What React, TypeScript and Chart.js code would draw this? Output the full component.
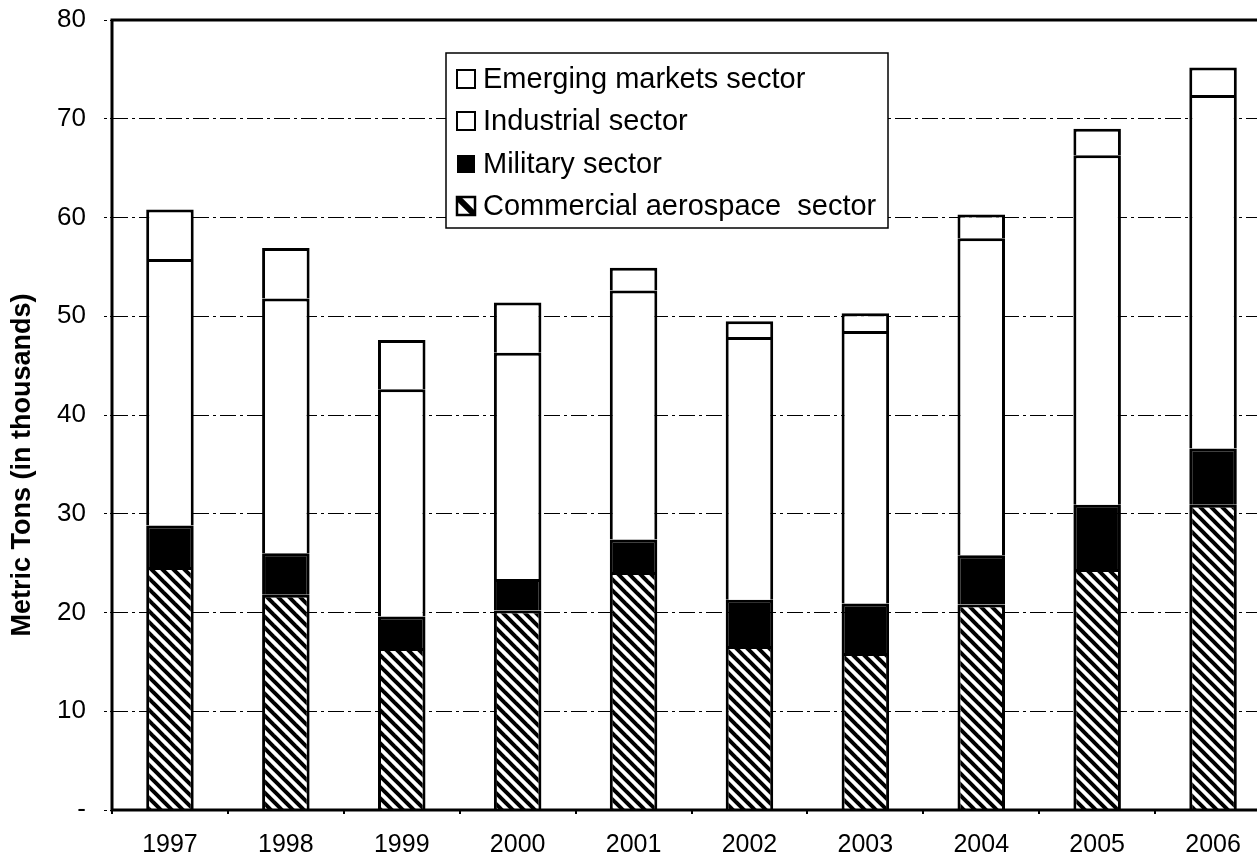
import React, { useEffect, useRef } from 'react';
import { Chart, registerables } from 'chart.js';

Chart.register(...registerables);

const years = ['1997', '1998', '1999', '2000', '2001', '2002', '2003', '2004', '2005', '2006'];
const commercial = [24.6, 21.8, 16.4, 20.2, 24.1, 16.6, 15.9, 20.8, 24.4, 30.9];
const military = [4.2, 4.2, 3.2, 3.2, 3.3, 4.7, 5.0, 5.0, 6.5, 5.7];
const industrial = [27.0, 25.8, 23.0, 22.9, 25.2, 26.6, 27.6, 32.1, 35.4, 35.8];
const emerging = [5.0, 5.1, 5.0, 5.1, 2.3, 1.6, 1.8, 2.4, 2.7, 2.8];
const yMin = 0;
const yMax = 80;
const yStep = 10;
const seriesLabels = ['Commercial aerospace  sector', 'Military sector', 'Industrial sector', 'Emerging markets sector'];
const yTitle = 'Metric Tons (in thousands)';

const FONT = '"Liberation Sans", Arial, Helvetica, sans-serif';

function makeHatch(): CanvasPattern | string {
  const c = document.createElement('canvas');
  const s = 11;
  c.width = s;
  c.height = s;
  const g = c.getContext('2d');
  if (!g) return '#000';
  g.fillStyle = '#fff';
  g.fillRect(0, 0, s, s);
  g.strokeStyle = '#000';
  g.lineWidth = 4;
  g.lineCap = 'square';
  for (let k = -1; k <= 1; k++) {
    g.beginPath();
    g.moveTo(k * s - s, -s);
    g.lineTo(k * s + 2 * s, 2 * s);
    g.stroke();
  }
  const p = g.createPattern(c, 'repeat');
  return p || '#000';
}

const framePlugin = {
  id: 'frame',
  afterDatasetsDraw(chart: any) {
    const { ctx, chartArea } = chart;
    ctx.save();
    ctx.strokeStyle = '#000';
    ctx.lineWidth = 3;
    ctx.strokeRect(chartArea.left, chartArea.top, chartArea.right - chartArea.left, chartArea.bottom - chartArea.top);
    ctx.restore();
  },
};

const legendPlugin = {
  id: 'boxLegend',
  afterDraw(chart: any) {
    const { ctx } = chart;
    const x = 446, y = 53, w = 442, h = 175;
    ctx.save();
    ctx.fillStyle = '#fff';
    ctx.fillRect(x, y, w, h);
    ctx.strokeStyle = '#000';
    ctx.lineWidth = 1.5;
    ctx.strokeRect(x, y, w, h);
    const rows = [79, 121, 164, 206];
    const ds = chart.data.datasets.slice().reverse();
    ctx.font = `29px ${FONT}`;
    ctx.textBaseline = 'middle';
    ctx.textAlign = 'left';
    ds.forEach((d: any, i: number) => {
      const cy = rows[i];
      const mx = 457, ms = 18, my = cy - ms / 2;
      ctx.lineWidth = 2;
      ctx.strokeStyle = '#000';
      if (d.legendKind === 'solid') {
        ctx.fillStyle = '#000';
        ctx.fillRect(mx, my, ms, ms);
      } else if (d.legendKind === 'hatch') {
        ctx.fillStyle = '#fff';
        ctx.fillRect(mx, my, ms, ms);
        ctx.save();
        ctx.beginPath();
        ctx.rect(mx, my, ms, ms);
        ctx.clip();
        ctx.lineWidth = 6;
        ctx.beginPath();
        ctx.moveTo(mx, my);
        ctx.lineTo(mx + ms, my + ms);
        ctx.stroke();
        ctx.restore();
        ctx.lineWidth = 2.5;
        ctx.strokeRect(mx, my, ms, ms);
      } else {
        ctx.fillStyle = '#fff';
        ctx.fillRect(mx, my, ms, ms);
        ctx.strokeRect(mx, my, ms, ms);
      }
      ctx.fillStyle = '#000';
      ctx.fillText(d.label, 483, cy + 1);
    });
    ctx.restore();
  },
};

const yTitlePlugin = {
  id: 'yTitle',
  afterDraw(chart: any) {
    const { ctx } = chart;
    ctx.save();
    ctx.translate(23, 465);
    ctx.rotate(-Math.PI / 2);
    ctx.font = `bold 27px ${FONT}`;
    ctx.fillStyle = '#000';
    ctx.textAlign = 'center';
    ctx.textBaseline = 'middle';
    ctx.fillText(yTitle, 0, 0);
    ctx.restore();
  },
};

export default function App() {
  const ref = useRef<HTMLCanvasElement>(null);

  useEffect(() => {
    if (!ref.current) return;
    const hatch = makeHatch();
    const common = {
      borderColor: '#000',
      borderWidth: 3,
      barPercentage: 0.41,
      categoryPercentage: 1,
    };
    const chart = new Chart(ref.current, {
      type: 'bar',
      data: {
        labels: years,
        datasets: [
          { ...common, label: seriesLabels[0], data: commercial, backgroundColor: hatch as any, legendKind: 'hatch' } as any,
          { ...common, label: seriesLabels[1], data: military, backgroundColor: '#000', legendKind: 'solid' } as any,
          { ...common, label: seriesLabels[2], data: industrial, backgroundColor: '#fff', legendKind: 'hollow' } as any,
          { ...common, label: seriesLabels[3], data: emerging, backgroundColor: '#fff', legendKind: 'hollow' } as any,
        ],
      },
      options: {
        responsive: false,
        animation: false,
        devicePixelRatio: 1,
        layout: { padding: { top: 20, right: 19, bottom: 0, left: 0 } },
        plugins: {
          legend: { display: false },
          tooltip: { enabled: false },
          title: { display: false },
        },
        scales: {
          x: {
            stacked: true,
            grid: {
              offset: true,
              drawOnChartArea: false,
              color: '#000',
              lineWidth: 2,
              tickLength: 4,
            },
            border: { display: false },
            ticks: {
              color: '#000',
              font: { family: FONT, size: 25 },
              padding: 16,
              maxRotation: 0,
              autoSkip: false,
            },
            afterFit(scale: any) {
              scale.height = 52;
              scale.paddingLeft = 0;
              scale.paddingRight = 0;
            },
          },
          y: {
            stacked: true,
            min: yMin,
            max: yMax,
            ticks: {
              stepSize: yStep,
              color: '#000',
              font: { family: FONT, size: 26 },
              padding: 18,
              callback: (v: any) => (Number(v) === 0 ? '-' : String(v)),
            },
            grid: {
              color: '#000',
              lineWidth: 1,
              tickLength: 8,
              tickBorderDash: [3, 3],
            },
            border: { display: false, dash: [16, 4, 3, 4] },
            afterFit(scale: any) {
              scale.width = 112;
              scale.paddingTop = 0;
              scale.paddingBottom = 0;
            },
          },
        },
      },
      plugins: [framePlugin, legendPlugin, yTitlePlugin],
    });
    return () => chart.destroy();
  }, []);

  return (
    <div style={{ position: 'fixed', left: 0, top: 0, width: 1257, height: 862, overflow: 'hidden', background: '#fff' }}>
      <canvas ref={ref} width={1290} height={862} style={{ display: 'block', width: 1290, height: 862 }} />
    </div>
  );
}
